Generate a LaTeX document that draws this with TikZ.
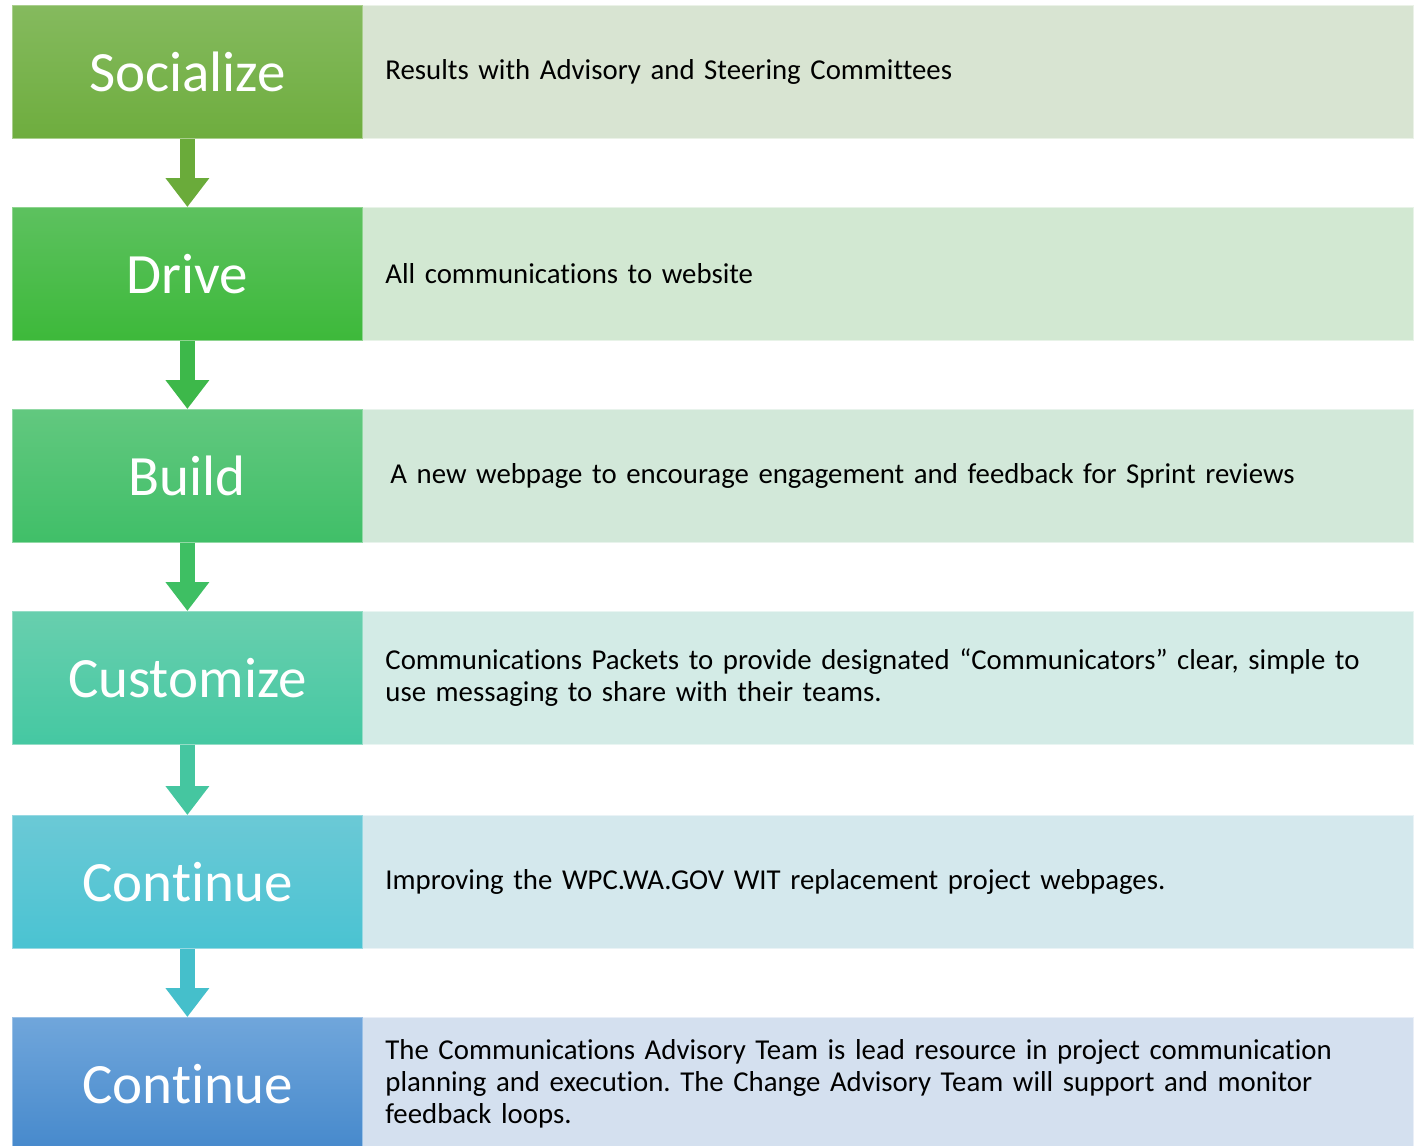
\documentclass[tikz,border=0pt]{standalone}
\usepackage{fontspec}
\setmainfont{Carlito}[Ligatures=NoCommon]
\usetikzlibrary{arrows.meta}
\definecolor{t1}{HTML}{85BA5E}\definecolor{b1}{HTML}{6EAD3E}
\definecolor{t2}{HTML}{5DC15F}\definecolor{b2}{HTML}{3DB93A}
\definecolor{t3}{HTML}{62C87F}\definecolor{b3}{HTML}{40BF68}
\definecolor{t4}{HTML}{68CFAE}\definecolor{b4}{HTML}{45C8A2}
\definecolor{t5}{HTML}{6BC9D6}\definecolor{b5}{HTML}{4AC3D2}
\definecolor{t6}{HTML}{70A6DB}\definecolor{b6}{HTML}{4689CC}
\definecolor{r1}{HTML}{D8E4D2}\definecolor{r2}{HTML}{D2E8D2}
\definecolor{r3}{HTML}{D2E8D9}\definecolor{r4}{HTML}{D3EBE6}
\definecolor{r5}{HTML}{D4E8ED}\definecolor{r6}{HTML}{D4E0EF}
\definecolor{a1}{HTML}{6AAB3A}\definecolor{a2}{HTML}{3DB84A}
\definecolor{a3}{HTML}{3EBF63}\definecolor{a4}{HTML}{45C6A0}
\definecolor{a5}{HTML}{45BFCB}
\frenchspacing
\tikzset{
  lbox/.style 2 args={anchor=north west, minimum width=350pt, minimum height=133pt,
    inner sep=0pt, text=white, font=\fontsize{57}{60}\selectfont,
    top color=#1, bottom color=#2, draw=#1!70!white, line width=0.8pt},
  rbox/.style={anchor=north west, minimum width=1051pt, minimum height=133pt,
    text width=1005pt, inner xsep=23pt, inner ysep=0pt, align=left,
    font=\fontsize{28.8}{32}\selectfont, fill=#1, draw=#1!50!white, line width=0.8pt},
  flow/.style={line width=15pt, draw=#1, -{Triangle[length=29pt,width=42pt]}}
}
\begin{document}
\begin{tikzpicture}[x=1pt,y=-1pt]
\useasboundingbox[fill=white] (0,0) rectangle (1422,1146);
\node[rbox=r1] (d1) at (362,5)    {Results with Advisory and Steering Committees};
\node[rbox=r2] (d2) at (362,207)  {All communications to website};
\node[rbox=r3] (d3) at (362,409)  {\hspace*{5pt}A new webpage to encourage engagement and feedback for Sprint reviews};
\node[rbox=r4] (d4) at (362,611)  {Communications Packets to provide designated “Communicators” clear, simple to\\use messaging to share with their teams.};
\node[rbox=r5] (d5) at (362,815)  {Improving the WPC.WA.GOV WIT replacement project webpages.};
\node[rbox=r6] (d6) at (362,1017) {The Communications Advisory Team is lead resource in project communication\\planning and execution. The Change Advisory Team will support and monitor\\feedback loops.};
\node[lbox={t1}{b1}] (s1) at (12,5)    {Socialize};
\node[lbox={t2}{b2}] (s2) at (12,207)  {Drive};
\node[lbox={t3}{b3}] (s3) at (12,409)  {Build};
\node[lbox={t4}{b4}] (s4) at (12,611)  {Customize};
\node[lbox={t5}{b5}] (s5) at (12,815)  {Continue};
\node[lbox={t6}{b6}] (s6) at (12,1017) {Continue};
\draw[flow=a1] (s1.south) -- (s2.north);
\draw[flow=a2] (s2.south) -- (s3.north);
\draw[flow=a3] (s3.south) -- (s4.north);
\draw[flow=a4] (s4.south) -- (s5.north);
\draw[flow=a5] (s5.south) -- (s6.north);
\end{tikzpicture}
\end{document}
